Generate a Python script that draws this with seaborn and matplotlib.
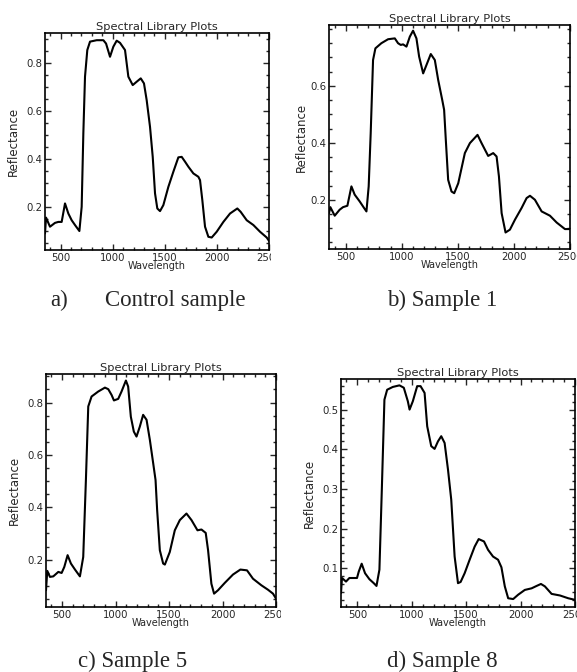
"""
Spectral library plots - reflectance curves for control and treated samples
"""

import numpy as np
import pandas as pd
import matplotlib
matplotlib.use("Agg")
import matplotlib.pyplot as plt
from matplotlib.patches import Rectangle
from matplotlib.ticker import AutoMinorLocator
import seaborn as sns

# ---- data ----
wl_control = [350, 360, 398, 446, 478, 510, 542, 574, 606, 638, 680, 702, 718, 734, 756, 782,
              846, 910, 936, 974, 1006, 1038, 1070, 1118, 1150, 1192, 1230, 1269, 1300, 1326,
              1358, 1384, 1406, 1428, 1454, 1486, 1534, 1582, 1630, 1662, 1694, 1726, 1774,
              1822, 1838, 1860, 1886, 1918, 1950, 1998, 2062, 2126, 2196, 2228, 2286, 2350,
              2414, 2478, 2500]
refl_control = [0.089, 0.155, 0.117, 0.133, 0.137, 0.137, 0.214, 0.172, 0.144, 0.124, 0.099,
                0.200, 0.506, 0.742, 0.853, 0.888, 0.894, 0.894, 0.880, 0.825, 0.867, 0.892,
                0.883, 0.853, 0.742, 0.707, 0.721, 0.735, 0.714, 0.644, 0.533, 0.408, 0.256,
                0.193, 0.182, 0.207, 0.283, 0.346, 0.406, 0.408, 0.388, 0.367, 0.339, 0.325,
                0.311, 0.228, 0.117, 0.075, 0.072, 0.096, 0.137, 0.172, 0.193, 0.179, 0.144,
                0.124, 0.096, 0.072, 0.058]

wl_s1 = [350, 362, 401, 445, 475, 514, 550, 579, 624, 663, 684, 704, 722, 743, 764, 817, 877,
         937, 966, 990, 1011, 1041, 1071, 1100, 1130, 1154, 1190, 1220, 1258, 1294, 1324, 1360,
         1377, 1392, 1413, 1443, 1467, 1503, 1562, 1607, 1675, 1711, 1770, 1815, 1845, 1866,
         1890, 1925, 1964, 2009, 2068, 2113, 2143, 2187, 2247, 2321, 2381, 2455, 2500]
refl_s1 = [0.153, 0.174, 0.144, 0.165, 0.174, 0.179, 0.247, 0.218, 0.194, 0.171, 0.159, 0.247,
           0.434, 0.691, 0.732, 0.750, 0.764, 0.767, 0.750, 0.744, 0.746, 0.738, 0.773, 0.794,
           0.767, 0.703, 0.644, 0.674, 0.712, 0.691, 0.621, 0.551, 0.516, 0.411, 0.270, 0.229,
           0.223, 0.258, 0.364, 0.399, 0.428, 0.399, 0.354, 0.364, 0.352, 0.282, 0.153, 0.085,
           0.095, 0.130, 0.171, 0.206, 0.214, 0.200, 0.159, 0.144, 0.120, 0.097, 0.097]

wl_s5 = [350, 362, 387, 418, 465, 496, 521, 552, 583, 621, 667, 698, 723, 745, 776, 838, 901,
         932, 963, 985, 1025, 1056, 1097, 1118, 1143, 1171, 1196, 1227, 1258, 1290, 1321, 1352,
         1374, 1389, 1414, 1445, 1461, 1507, 1554, 1601, 1663, 1710, 1766, 1803, 1843, 1865,
         1896, 1921, 1958, 2021, 2098, 2167, 2229, 2285, 2363, 2425, 2472, 2500]
refl_s5 = [0.083, 0.157, 0.134, 0.136, 0.153, 0.149, 0.172, 0.217, 0.185, 0.162, 0.136, 0.210,
           0.504, 0.785, 0.823, 0.842, 0.857, 0.851, 0.829, 0.808, 0.814, 0.842, 0.884, 0.861,
           0.746, 0.689, 0.670, 0.708, 0.753, 0.734, 0.657, 0.568, 0.504, 0.389, 0.236, 0.185,
           0.181, 0.229, 0.312, 0.351, 0.376, 0.351, 0.312, 0.315, 0.302, 0.236, 0.108, 0.070,
           0.083, 0.111, 0.143, 0.162, 0.159, 0.127, 0.102, 0.085, 0.070, 0.051]

wl_s8 = [350, 359, 396, 427, 473, 497, 513, 540, 571, 611, 651, 676, 703, 725, 749, 774, 826,
         887, 927, 964, 980, 1010, 1050, 1081, 1118, 1142, 1179, 1210, 1241, 1271, 1302, 1333,
         1363, 1394, 1425, 1449, 1486, 1532, 1578, 1615, 1664, 1701, 1747, 1793, 1824, 1855,
         1886, 1932, 1978, 2039, 2101, 2147, 2187, 2223, 2285, 2362, 2438, 2500]
refl_s8 = [0.038, 0.076, 0.067, 0.076, 0.076, 0.076, 0.092, 0.112, 0.088, 0.073, 0.063, 0.056,
           0.097, 0.298, 0.525, 0.550, 0.557, 0.561, 0.555, 0.521, 0.500, 0.521, 0.559, 0.559,
           0.542, 0.458, 0.408, 0.401, 0.420, 0.433, 0.416, 0.349, 0.273, 0.130, 0.063, 0.066,
           0.088, 0.122, 0.155, 0.174, 0.168, 0.147, 0.130, 0.122, 0.103, 0.055, 0.025, 0.023,
           0.034, 0.046, 0.050, 0.056, 0.061, 0.055, 0.036, 0.032, 0.025, 0.021]

x_ticks = [500, 1000, 1500, 2000, 2500]
y_ticks_a = [0.2, 0.4, 0.6, 0.8]
y_ticks_b = [0.2, 0.4, 0.6]
y_ticks_c = [0.2, 0.4, 0.6, 0.8]
y_ticks_d = [0.1, 0.2, 0.3, 0.4, 0.5]

sns.set_style("ticks")
plt.rcParams['font.family'] = ['DejaVu Sans']

W, H = 577, 672
fig = plt.figure(figsize=(W / 100, H / 100), dpi=100)


def px_axes(left, right, top, bottom):
    """Axes from pixel edges of the reference"""
    return fig.add_axes([left / W, 1 - bottom / H, (right - left) / W, (bottom - top) / H])


panels = [
    # wl, refl, yticks, ylim, box (l, r, t, b), ylabel x, tick label clip x
    (wl_control, refl_control, y_ticks_a, (0.02, 0.924), (45, 269, 33, 250), 13, 271),
    (wl_s1, refl_s1, y_ticks_b, (0.027, 0.814), (329, 570, 25, 249), 301, W),
    (wl_s5, refl_s5, y_ticks_c, (0.019, 0.909), (46, 276, 374, 607), 14, 281),
    (wl_s8, refl_s8, y_ticks_d, (0.003, 0.577), (341, 575, 379, 607), 309, W),
]

for wl, refl, yt, ylim, box, ylab_x, clip_x in panels:
    ax = px_axes(*box)
    df = pd.DataFrame({'Wavelength': wl, 'Reflectance': refl})
    sns.lineplot(data=df, x='Wavelength', y='Reflectance', ax=ax, color='black', lw=1.5)
    ax.set_xlim(350, 2500)
    ax.set_ylim(*ylim)
    ax.set_xticks(x_ticks)
    ax.set_yticks(yt)
    ax.set_yticklabels([f"{v:.1f}" for v in yt])
    ax.xaxis.set_minor_locator(AutoMinorLocator())
    ax.yaxis.set_minor_locator(AutoMinorLocator())
    ax.tick_params(which='both', direction='in', top=True, right=True, width=1.0,
                   labelsize=7.3, pad=2)
    ax.tick_params(which='major', length=4)
    ax.tick_params(which='minor', length=2)
    for s in ax.spines.values():
        s.set_linewidth(1.2)
        s.set_color('black')
    ax.set_title('Spectral Library Plots', fontsize=8.2, pad=2)
    ax.set_xlabel('Wavelength', fontsize=7, labelpad=-1)
    ax.set_ylabel('')
    fig.text(ylab_x / W, 1 - ((box[2] + box[3]) / 2) / H, 'Reflectance', rotation=90,
             ha='center', va='center', fontsize=8.5)
    # labels are cut at the edge of each picture in the reference
    clip = Rectangle((0, 0), clip_x / W, 1, transform=fig.transFigure)
    for t in ax.xaxis.get_major_ticks():
        t.label1.set_clip_path(clip)

cap = dict(family='Liberation Serif', fontsize=16.5, va='baseline', ha='left')
fig.text(50 / W, 1 - 306 / H, 'a)', **cap)
fig.text(105 / W, 1 - 306 / H, 'Control sample', **cap)
fig.text(387 / W, 1 - 306 / H, 'b) Sample 1', **cap)
fig.text(78 / W, 1 - 667 / H, 'c) Sample 5', **cap)
fig.text(387 / W, 1 - 667 / H, 'd) Sample 8', **cap)

fig.savefig('out.png', dpi=100)
